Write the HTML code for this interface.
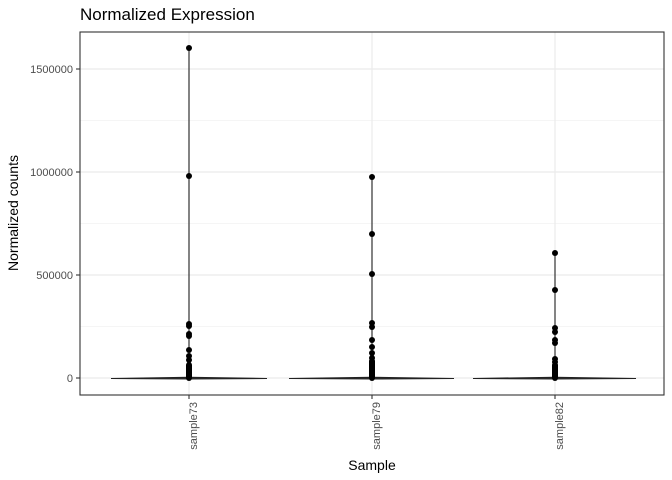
<!DOCTYPE html>
<html><head><style>body{margin:0;background:#fff}svg{display:block}text{font-family:"Liberation Sans",sans-serif}</style></head>
<body>
<svg width="672" height="480" xmlns="http://www.w3.org/2000/svg">
<rect width="672" height="480" fill="#fff"/>
<text x="80" y="20" font-size="17" fill="#000">Normalized Expression</text>
<g stroke="#ebebeb" stroke-width="0.6">
<line x1="80" x2="664" y1="326.5" y2="326.5"/><line x1="80" x2="664" y1="223.5" y2="223.5"/><line x1="80" x2="664" y1="120.5" y2="120.5"/>
</g>
<g stroke="#ebebeb" stroke-width="1.2">
<line x1="80" x2="664" y1="378" y2="378"/><line x1="80" x2="664" y1="275" y2="275"/><line x1="80" x2="664" y1="172" y2="172"/><line x1="80" x2="664" y1="69" y2="69"/>
<line x1="189" x2="189" y1="32" y2="395"/><line x1="372" x2="372" y1="32" y2="395"/><line x1="555" x2="555" y1="32" y2="395"/>
</g>
<g stroke="#222" stroke-width="1.1" fill="none">
<line x1="189" x2="189" y1="48" y2="378"/><line x1="372" x2="372" y1="177" y2="378"/><line x1="555" x2="555" y1="253" y2="378"/>
<path d="M111 378.5 L189 377.3 L267 378.5 L189 379 Z" fill="#333"/>
<path d="M289 378.5 L372 377.3 L454 378.5 L372 379 Z" fill="#333"/>
<path d="M473 378.5 L555 377.3 L636 378.5 L555 379 Z" fill="#333"/>
</g>
<g fill="#000">
<circle cx="189" cy="48" r="3"/><circle cx="189" cy="176" r="3"/><circle cx="189" cy="324" r="3"/><circle cx="189" cy="326" r="3"/><circle cx="189" cy="334" r="3"/><circle cx="189" cy="336" r="3"/><circle cx="189" cy="350" r="3"/><circle cx="189" cy="356" r="3"/><circle cx="189" cy="360" r="3"/>
<rect x="186" y="362" width="6" height="19" rx="3"/>
<circle cx="372" cy="177" r="3"/><circle cx="372" cy="234" r="3"/><circle cx="372" cy="274" r="3"/><circle cx="372" cy="323" r="3"/><circle cx="372" cy="327" r="3"/><circle cx="372" cy="340" r="3"/><circle cx="372" cy="347" r="3"/><circle cx="372" cy="353" r="3"/><circle cx="372" cy="358" r="3"/>
<rect x="369" y="358" width="6" height="23" rx="3"/>
<circle cx="555" cy="253" r="3"/><circle cx="555" cy="290" r="3"/><circle cx="555" cy="328" r="3"/><circle cx="555" cy="332" r="3"/><circle cx="555" cy="340" r="3"/><circle cx="555" cy="343" r="3"/><circle cx="555" cy="359" r="3"/><circle cx="555" cy="362" r="3"/>
<rect x="552" y="362" width="6" height="19" rx="3"/>
</g>
<rect x="80" y="32" width="584" height="363" fill="none" stroke="#333" stroke-width="1.1"/>
<g stroke="#333" stroke-width="1.1">
<line x1="76" x2="80" y1="378" y2="378"/><line x1="76" x2="80" y1="275" y2="275"/><line x1="76" x2="80" y1="172" y2="172"/><line x1="76" x2="80" y1="69" y2="69"/>
<line x1="189" x2="189" y1="395" y2="399"/><line x1="372" x2="372" y1="395" y2="399"/><line x1="555" x2="555" y1="395" y2="399"/>
</g>
<g font-size="11" fill="#4d4d4d" text-anchor="end">
<text x="73" y="382">0</text><text x="73" y="279">500000</text><text x="73" y="176">1000000</text><text x="73" y="73">1500000</text>
<text transform="translate(197,402) rotate(-90)">sample73</text>
<text transform="translate(380,402) rotate(-90)">sample79</text>
<text transform="translate(563,402) rotate(-90)">sample82</text>
</g>
<text x="372" y="470" font-size="14" text-anchor="middle">Sample</text>
<text transform="translate(18,213) rotate(-90)" font-size="14" text-anchor="middle">Normalized counts</text>
</svg>
</body></html>
